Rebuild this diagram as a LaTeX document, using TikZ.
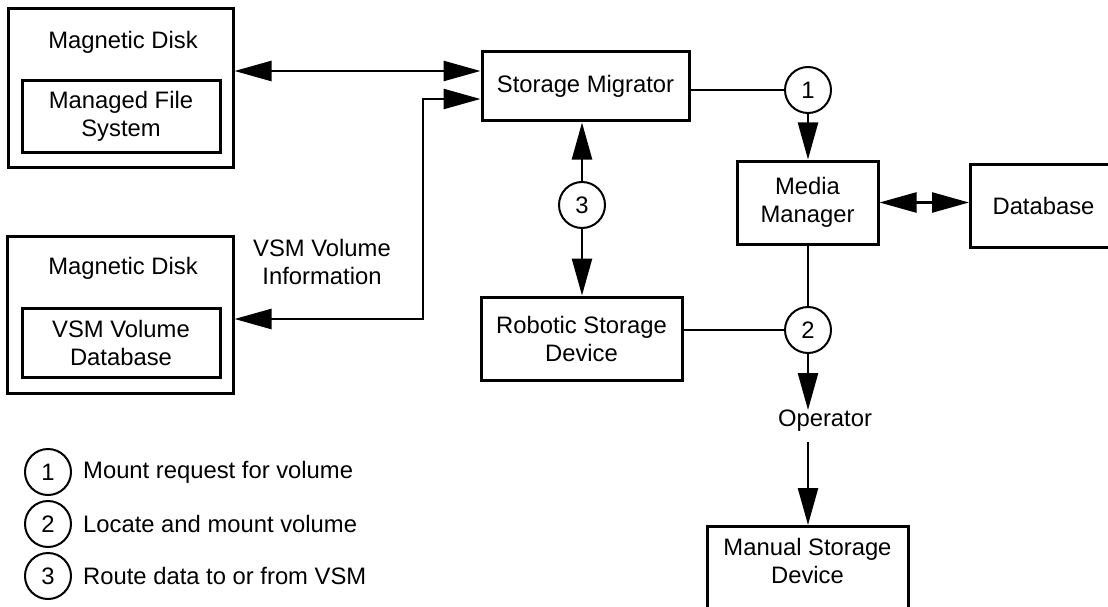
\documentclass[tikz,border=0pt]{standalone}
\usepackage{fontspec}
\setmainfont{Liberation Sans}
\usetikzlibrary{arrows.meta}

\begin{document}
\begin{tikzpicture}[x=1pt,y=-1pt,
    every node/.style={font=\fontsize{23.8}{28}\selectfont, align=center},
    box/.style={draw, line width=3pt, inner sep=0pt},
    ring/.style={draw, circle, line width=2pt, minimum size=46pt, inner sep=0pt},
    conn/.style={line width=2.5pt},
    tip/.style={conn, -{Triangle[length=37pt,width=20pt]}},
    twotip/.style={conn, {Triangle[length=37pt,width=20pt]}-{Triangle[length=37pt,width=20pt]}}]
  \path[use as bounding box, clip] (0,0) rectangle (1108,607);

  % the two disks
  \node[box, minimum width=225pt, minimum height=158pt] (disk1) at (120.5,88) {};
  \node (disk1t) at (123,42) {Magnetic Disk};
  \node[box, minimum width=198pt, minimum height=71pt] (mfs) at (121,116.5) {Managed File\\System};
  \node[box, minimum width=226pt, minimum height=157pt] (disk2) at (120,314.5) {};
  \node (disk2t) at (123,268) {Magnetic Disk};
  \node[box, minimum width=198pt, minimum height=69pt] (vsmdb) at (121,342.5) {VSM Volume\\Database};
  \node (vsminfo) at (322,262) {VSM Volume\\Information};

  % main boxes
  \node[box, minimum width=207pt, minimum height=69pt] (sm) at (585.5,86.5) {Storage Migrator};
  \node[box, minimum width=141pt, minimum height=83pt] (mm) at (807.5,202.5) {Media\\Manager};
  \node[box, anchor=west, minimum width=170pt, minimum height=83pt] (db) at (969,205.5) {Database\hspace*{24pt}};
  \node[box, minimum width=201pt, minimum height=83pt] (rsd) at (581.5,338.5) {Robotic Storage\\Device};
  \node[inner sep=0pt] (op) at (825,421) {Operator};
  \node[box, anchor=north, minimum width=201pt, inner ysep=12pt, text depth=50pt] (msd) at (807.5,525) {Manual Storage\\Device};

  % numbered steps
  \node[ring] (c1) at (808,90) {1};
  \node[ring] (c2) at (808,330) {2};
  \node[ring] (c3) at (582,205) {3};

  % legend
  \node[ring] (l1) at (48,472) {1};
  \node[ring] (l2) at (48,524) {2};
  \node[ring] (l3) at (48,576) {3};
  \node[anchor=west, inner sep=0pt] (l1t) at (83,472) {Mount request for volume};
  \node[anchor=west, inner sep=0pt] (l2t) at (83,524) {Locate and mount volume};
  \node[anchor=west, inner sep=0pt] (l3t) at (83,576) {Route data to or from VSM};

  \coordinate (smtop) at ([yshift=15.5pt]sm.west);
  \coordinate (smlow) at ([yshift=-12.5pt]sm.west);
  \coordinate (vsmturn) at (423,319);
  \coordinate (opout) at ([yshift=-10pt]op.south);

  \draw[twotip] (disk1.east |- smtop) -- (smtop);
  \draw[twotip] (disk2.east |- vsmturn) -- (vsmturn) |- (smlow);
  \draw[conn] (sm.east |- c1) -- (c1);
  \draw[tip] (c1) -- (c1 |- mm.north);
  \draw[twotip] (mm.east) -- (mm.east -| db.west);
  \draw[tip] (c3) -- (c3 |- sm.south);
  \draw[tip] (c3) -- (c3 |- rsd.north);
  \draw[conn] (mm.south -| c2) -- (c2);
  \draw[conn] (rsd.east |- c2) -- (c2);
  \draw[tip] (c2) -- (c2 |- op.north);
  \draw[tip] (opout -| c2) -- (c2 |- msd.north);
\end{tikzpicture}
\end{document}
